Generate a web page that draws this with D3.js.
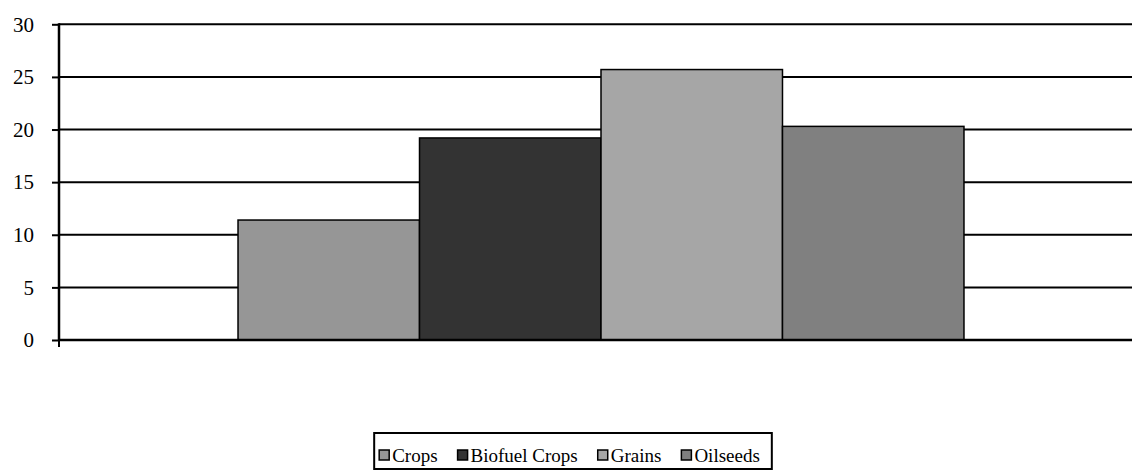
<!DOCTYPE html>
<html><head><meta charset="utf-8">
<script src="https://cdn.jsdelivr.net/npm/d3@7"></script>
<style>
html,body{margin:0;padding:0;background:#fff;}
svg{display:block;}
svg text{font-family:'Liberation Serif','Times New Roman',serif;}
</style></head>
<body>
<svg id="chart" width="1132" height="471"></svg>
<script>
const categories = ["All"];
const seriesNames = ["Crops", "Biofuel Crops", "Grains", "Oilseeds"];
const seriesValues = [11.4, 19.2, 25.7, 20.3];
const seriesColors = ["#969696", "#333333", "#a6a6a6", "#808080"];
const yTicks = [0, 5, 10, 15, 20, 25, 30];

const FONT = "'Liberation Serif', 'Times New Roman', serif";
const svg = d3.select("#chart");
const W = 1132, H = 471;
const plotLeft = 59, plotRight = 1143, plotTop = 24.3, plotBottom = 340;

const y = d3.scaleLinear().domain([0, 30]).range([plotBottom, plotTop]);
const x0 = d3.scaleBand().domain(categories).range([plotLeft, plotRight]).paddingInner(0).paddingOuter(0.2466);
const x1 = d3.scaleBand().domain(seriesNames).range([0, x0.bandwidth()]).padding(0);

// gridlines
svg.append("g").selectAll("line").data(yTicks.filter(t => t > 0)).join("line")
  .attr("x1", plotLeft).attr("x2", W)
  .attr("y1", d => y(d)).attr("y2", d => y(d))
  .attr("stroke", "#000").attr("stroke-width", 2);

// bars
const g = svg.append("g");
categories.forEach(c => {
  g.selectAll("rect.bar").data(seriesNames.map((s, i) => ({s, v: seriesValues[i], c: seriesColors[i]})))
    .join("rect").attr("class", "bar")
    .attr("x", d => x0(c) + x1(d.s))
    .attr("width", x1.bandwidth())
    .attr("y", d => y(d.v))
    .attr("height", d => y(0) - y(d.v))
    .attr("fill", d => d.c)
    .attr("stroke", "#000").attr("stroke-width", 1.5);
});

// y axis
const yAxis = d3.axisLeft(y).tickValues(yTicks).tickSize(7).tickPadding(16).tickFormat(d3.format("d"));
const ya = svg.append("g").attr("transform", `translate(${plotLeft},0)`).call(yAxis)
  .attr("font-family", FONT).attr("font-size", 21);
ya.select(".domain").remove();
ya.selectAll(".tick line").attr("stroke", "#000").attr("stroke-width", 2);
ya.selectAll(".tick text").attr("font-size", 21).attr("fill", "#000")
  .attr("font-family", FONT).attr("x", -25);
svg.append("line").attr("x1", plotLeft).attr("x2", plotLeft).attr("y1", plotTop - 1).attr("y2", plotBottom)
  .attr("stroke", "#000").attr("stroke-width", 2.5);

// x axis baseline and tick
svg.append("line").attr("x1", plotLeft - 1).attr("x2", W).attr("y1", y(0)).attr("y2", y(0))
  .attr("stroke", "#000").attr("stroke-width", 2.5);
svg.append("line").attr("x1", plotLeft).attr("x2", plotLeft).attr("y1", y(0)).attr("y2", y(0) + 7)
  .attr("stroke", "#000").attr("stroke-width", 2);

// legend
const legFont = 19, mk = 10, mkGap = 3, itemGap = 20, padL = 5, padR = 12;
const legG = svg.append("g");
const items = legG.selectAll("g.item").data(seriesNames.map((s, i) => ({s, c: seriesColors[i]}))).join("g").attr("class", "item");
items.append("rect").attr("width", mk).attr("height", mk).attr("y", -mk / 2)
  .attr("fill", d => d.c).attr("stroke", "#000").attr("stroke-width", 1.5);
items.append("text").attr("x", mk + mkGap).attr("dy", "0.35em")
  .attr("font-family", FONT).attr("font-size", legFont).attr("fill", "#000").text(d => d.s);
let cx = 0;
items.each(function() {
  const t = d3.select(this).select("text").node().getComputedTextLength();
  d3.select(this).attr("transform", `translate(${cx},0)`);
  cx += mk + mkGap + t + itemGap;
});
const contentW = cx - itemGap;
const boxW = contentW + padL + padR, boxH = 36;
const boxX = 573 - boxW / 2, boxY = 433;
legG.insert("rect", ":first-child").attr("x", -padL).attr("y", -boxH / 2 - 4).attr("width", boxW).attr("height", boxH)
  .attr("fill", "#fff").attr("stroke", "#000").attr("stroke-width", 2);
legG.attr("transform", `translate(${boxX + padL},${boxY + boxH / 2 + 4})`);
</script>
</body></html>
